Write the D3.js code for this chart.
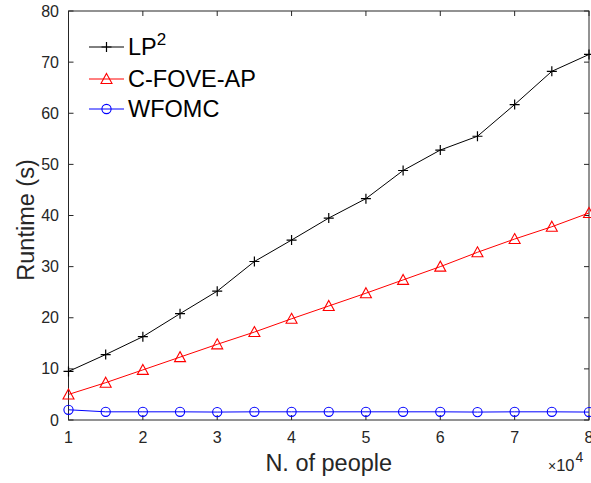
<!DOCTYPE html>
<html>
<head>
<meta charset="utf-8">
<script src="https://cdn.jsdelivr.net/npm/d3@7"></script>
<style>
  body { margin: 0; background: #fff; }
  svg { display: block; font-family: "Liberation Sans", Arial, sans-serif; }
</style>
</head>
<body>
<div id="chart"></div>
<script>
// x in units of 10^4 people
const people = [1, 1.5, 2, 2.5, 3, 3.5, 4, 4.5, 5, 5.5, 6, 6.5, 7, 7.5, 8];
const lp2 = [9.5, 12.8, 16.3, 20.8, 25.2, 31.0, 35.2, 39.5, 43.3, 48.8, 52.8, 55.5, 61.7, 68.2, 71.5];
const cfove = [5.0, 7.3, 9.8, 12.3, 14.8, 17.2, 19.8, 22.3, 24.8, 27.4, 30.0, 32.8, 35.4, 37.8, 40.5];
const wfomc = [2.0, 1.6, 1.6, 1.6, 1.55, 1.6, 1.6, 1.6, 1.6, 1.6, 1.6, 1.55, 1.6, 1.6, 1.55];
const xTicks = [1, 2, 3, 4, 5, 6, 7, 8];
const yTicks = [0, 10, 20, 30, 40, 50, 60, 70, 80];

const series = [
  { name: "LP", sup: "2", values: lp2, color: "#000000", marker: "plus" },
  { name: "C-FOVE-AP", values: cfove, color: "#ff0000", marker: "triangle" },
  { name: "WFOMC", values: wfomc, color: "#0000ff", marker: "circle" }
];

const W = 591, H = 483;
const m = { left: 68.5, right: 2, top: 11, bottom: 63 };
const axisColor = "#262626";

const svg = d3.select("#chart").append("svg").attr("width", W).attr("height", H);

const x = d3.scaleLinear().domain([1, 8]).range([m.left, W - m.right]);
const y = d3.scaleLinear().domain([0, 80]).range([H - m.bottom, m.top]);

const g = svg.append("g");
const x0 = x.range()[0], x1 = x.range()[1], y0 = y.range()[0], y1 = y.range()[1];
const tick = 5;

// ticks (inward) on all four sides
xTicks.forEach(t => {
  g.append("line").attr("x1", x(t)).attr("x2", x(t)).attr("y1", y0).attr("y2", y0 - tick).attr("stroke", axisColor);
  g.append("line").attr("x1", x(t)).attr("x2", x(t)).attr("y1", y1).attr("y2", y1 + tick).attr("stroke", axisColor);
  g.append("text").attr("x", x(t)).attr("y", y0 + 23).attr("text-anchor", "middle")
    .attr("font-size", 16).attr("fill", axisColor).text(t);
});
yTicks.forEach(t => {
  g.append("line").attr("x1", x0).attr("x2", x0 + tick).attr("y1", y(t)).attr("y2", y(t)).attr("stroke", axisColor);
  g.append("line").attr("x1", x1).attr("x2", x1 - tick).attr("y1", y(t)).attr("y2", y(t)).attr("stroke", axisColor);
  g.append("text").attr("x", x0 - 9.5).attr("y", y(t)).attr("dy", "0.35em").attr("text-anchor", "end")
    .attr("font-size", 16).attr("fill", axisColor).text(t);
});

g.append("rect").attr("x", x0).attr("y", y1).attr("width", x1 - x0).attr("height", y0 - y1)
  .attr("fill", "none").attr("stroke", axisColor).attr("stroke-width", 1);

// axis labels
svg.append("text").attr("x", (x0 + x1) / 2).attr("y", 471).attr("text-anchor", "middle")
  .attr("font-size", 23.5).attr("fill", axisColor).text("N. of people");
svg.append("text").attr("transform", `translate(34,220) rotate(-90)`)
  .attr("text-anchor", "middle").attr("font-size", 23.5).attr("fill", axisColor).text("Runtime (s)");
const mult = svg.append("text").attr("x", 548).attr("y", 471).attr("font-size", 16.5).attr("fill", axisColor);
mult.append("tspan").attr("font-size", 14).text("\u00d7");
mult.append("tspan").text("10");
mult.append("tspan").attr("font-size", 14).attr("dx", 1).attr("dy", -9).text("4");

function drawMarker(sel, type, color) {
  if (type === "plus") {
    sel.append("path").attr("d", "M-5,0H5M0,-5V5").attr("stroke", color).attr("stroke-width", 1.2).attr("fill", "none");
  } else if (type === "triangle") {
    sel.append("path").attr("d", "M0,-5.5L5.5,4.5H-5.5Z").attr("stroke", color).attr("stroke-width", 1.1).attr("fill", "none");
  } else {
    sel.append("circle").attr("r", 4.6).attr("stroke", color).attr("stroke-width", 1.1).attr("fill", "none");
  }
}

const line = d3.line().x((d, i) => x(people[i])).y(d => y(d));

series.forEach(s => {
  svg.append("path").datum(s.values).attr("d", line).attr("fill", "none")
    .attr("stroke", s.color).attr("stroke-width", 1);
  svg.append("g").selectAll("g").data(s.values).join("g")
    .attr("transform", (d, i) => `translate(${x(people[i])},${y(d)})`)
    .each(function () { drawMarker(d3.select(this), s.marker, s.color); });
});

// legend (no box)
const legY = [47, 79, 109];
series.forEach((s, i) => {
  const lg = svg.append("g").attr("transform", `translate(89,${legY[i]})`);
  lg.append("line").attr("x1", 0).attr("x2", 35).attr("y1", 0).attr("y2", 0).attr("stroke", s.color).attr("stroke-width", 1);
  const mk = lg.append("g").attr("transform", "translate(17.5,0)");
  drawMarker(mk, s.marker, s.color);
  const t = lg.append("text").attr("x", 39).attr("y", 0).attr("dy", "0.36em")
    .attr("font-size", 23.5).attr("fill", "#000").text(s.name);
  if (s.sup) t.append("tspan").attr("font-size", 17).attr("dy", -10).text(s.sup);
});
</script>
</body>
</html>
